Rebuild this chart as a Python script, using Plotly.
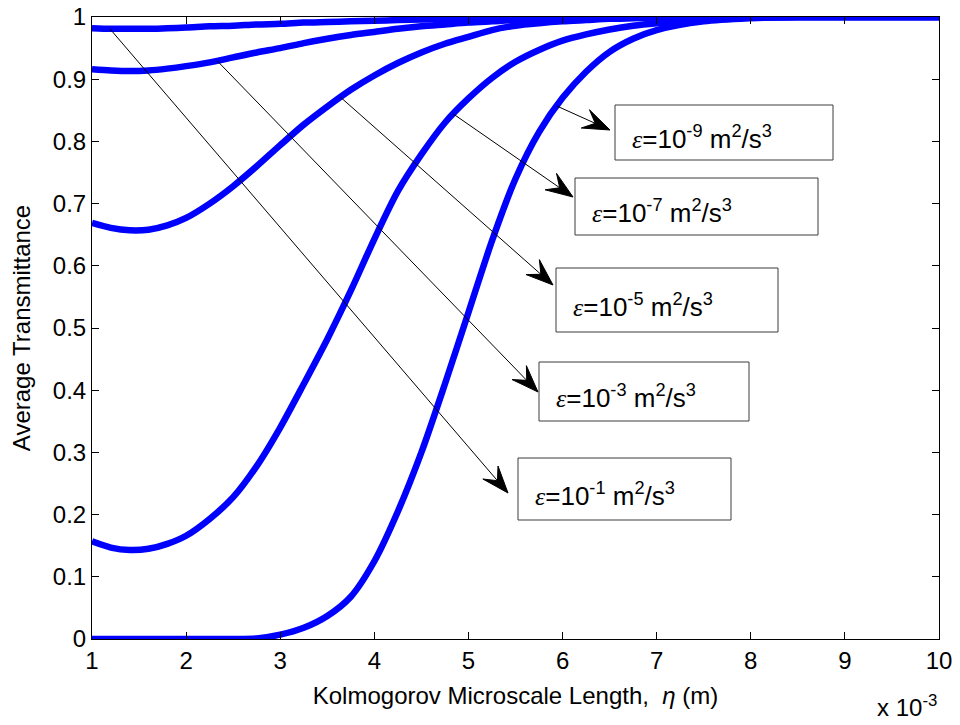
import numpy as np
import plotly.graph_objects as go

# ---------------- data (eta in units of 1e-3 m) ----------------
eta = [1.0, 1.2, 1.4, 1.6, 1.8, 2.0, 2.25, 2.5, 2.75, 3.0, 3.25, 3.5, 3.75, 4.0,
       4.25, 4.5, 4.75, 5.0, 5.25, 5.5, 5.75, 6.0, 6.25, 6.5, 6.75, 7.0, 7.5,
       8.0, 8.5, 9.0, 9.5, 10.0]

trans_eps_1e_1 = [0.982, 0.981, 0.981, 0.981, 0.982, 0.983, 0.985, 0.986, 0.988,
                  0.989, 0.991, 0.992, 0.993, 0.994, 0.995, 0.996, 0.997, 0.998,
                  0.998, 0.999, 0.999, 0.999, 1.0, 1.0, 1.0, 1.0, 1.0, 1.0, 1.0,
                  1.0, 1.0, 1.0]
trans_eps_1e_3 = [0.916, 0.914, 0.913, 0.914, 0.917, 0.921, 0.927, 0.935, 0.943,
                  0.950, 0.958, 0.965, 0.971, 0.976, 0.981, 0.985, 0.988, 0.991,
                  0.993, 0.995, 0.996, 0.997, 0.998, 0.999, 0.999, 1.0, 1.0, 1.0,
                  1.0, 1.0, 1.0, 1.0]
trans_eps_1e_5 = [0.669, 0.661, 0.657, 0.658, 0.665, 0.677, 0.700, 0.728, 0.760,
                  0.794, 0.827, 0.856, 0.883, 0.906, 0.926, 0.943, 0.957, 0.968,
                  0.979, 0.986, 0.990, 0.993, 0.995, 0.997, 0.998, 0.999, 1.0,
                  1.0, 1.0, 1.0, 1.0, 1.0]
trans_eps_1e_7 = [0.157, 0.147, 0.143, 0.145, 0.153, 0.166, 0.193, 0.228, 0.278,
                  0.340, 0.410, 0.482, 0.560, 0.643, 0.720, 0.779, 0.830, 0.869,
                  0.902, 0.928, 0.947, 0.962, 0.972, 0.980, 0.986, 0.990, 0.996,
                  0.999, 1.0, 1.0, 1.0, 1.0]
trans_eps_1e_9 = [0.0, 0.0, 0.0, 0.0, 0.0, 0.0, 0.0, 0.0, 0.001, 0.007, 0.018,
                  0.037, 0.068, 0.125, 0.205, 0.30, 0.41, 0.525, 0.64, 0.74,
                  0.815, 0.87, 0.912, 0.944, 0.965, 0.979, 0.993, 0.998, 1.0,
                  1.0, 1.0, 1.0]

series = [trans_eps_1e_1, trans_eps_1e_3, trans_eps_1e_5, trans_eps_1e_7, trans_eps_1e_9]

label_exponents = ["-9", "-7", "-5", "-3", "-1"]
# which curve each label's arrow starts on, and the eta where it starts
label_curves = [trans_eps_1e_9, trans_eps_1e_7, trans_eps_1e_5, trans_eps_1e_3, trans_eps_1e_1]
label_tail_eta = [5.94, 4.84, 3.64, 2.33, 1.19]

x_ticks = list(range(1, 11))
y_ticks = [round(0.1 * i, 1) for i in range(11)]

# ---------------- layout geometry ----------------
OFF = 8  # page body margin of the browser
W, H = 960 - OFF, 725 - OFF
ML, MR, MT, MB = 92 - OFF, 21, 17 - OFF, 86
PW, PH = W - ML - MR, H - MT - MB
X0, X1, Y0, Y1 = 1.0, 10.0, 0.0, 1.0


# screen-pixel -> data / paper helpers
def px2x(px):
    return X0 + (px - OFF - ML) / PW * (X1 - X0)


def py2y(py):
    return Y0 + (H - MB - (py - OFF)) / PH * (Y1 - Y0)


def x2px(x):
    return OFF + ML + (x - X0) / (X1 - X0) * PW


def y2py(y):
    return OFF + H - MB - (y - Y0) / (Y1 - Y0) * PH


def px2paperx(px):
    return (px - OFF - ML) / PW


def py2papery(py):
    return (H - MB - (py - OFF)) / PH


# arrow tip positions and box rectangles (screen pixels)
tips_px = [(610, 130), (573, 197), (553, 285), (538, 392), (508, 493)]
boxes_px = [(615, 105, 833, 160), (575, 178, 818, 235), (556, 268, 778, 332),
            (539, 362, 749, 421), (518, 458, 731, 520)]

FONT = "Liberation Sans, Arial, sans-serif"
BLUE = "rgb(0,0,255)"

fig = go.Figure()
for s in series:
    fig.add_trace(go.Scatter(x=eta, y=s, mode="lines",
                             line=dict(color=BLUE, width=6.5, shape="spline", smoothing=0.8),
                             showlegend=False, hoverinfo="skip"))

shapes = []
annotations = []
HL, HW = 27, 10  # arrowhead length and half width (px)
for exp_, curve, teta, tip, box in zip(label_exponents, label_curves, label_tail_eta,
                                       tips_px, boxes_px):
    ty = float(np.interp(teta, eta, curve))
    tx_p, ty_p = x2px(teta), y2py(ty)
    hx, hy = tip
    d = np.array([hx - tx_p, hy - ty_p], dtype=float)
    d /= np.linalg.norm(d)
    n = np.array([-d[1], d[0]])
    tipv = np.array([hx, hy], dtype=float)
    w1 = tipv - HL * d + HW * n
    w2 = tipv - HL * d - HW * n
    notch = tipv - 0.6 * HL * d
    shapes.append(dict(type="line", xref="x", yref="y",
                       x0=teta, y0=ty, x1=px2x(notch[0]), y1=py2y(notch[1]),
                       line=dict(color="black", width=1)))
    pts = [tipv, w1, notch, w2]
    path = "M " + " L ".join(f"{px2x(p[0]):.5f},{py2y(p[1]):.5f}" for p in pts) + " Z"
    shapes.append(dict(type="path", xref="x", yref="y", path=path,
                       fillcolor="black", line=dict(color="black", width=1)))
    bx0, by0, bx1, by1 = box
    shapes.append(dict(type="rect", xref="x", yref="y",
                       x0=px2x(bx0), x1=px2x(bx1), y0=py2y(by1), y1=py2y(by0),
                       line=dict(color="rgb(60,60,60)", width=1), fillcolor="rgba(0,0,0,0)"))
    annotations.append(dict(
        x=px2x(bx0 + 15), y=py2y((by0 + by1) / 2 + 5), xref="x", yref="y",
        xanchor="left", yanchor="middle", showarrow=False,
        text=(f"<i><span style='font-family:Liberation Serif'>ε</span></i>=10<sup>{exp_}</sup>"
              f" m<sup>2</sup>/s<sup>3</sup>"),
        font=dict(family=FONT, size=26, color="black")))

annotations.append(dict(x=px2paperx(875), y=py2papery(706), xref="paper", yref="paper",
                        xanchor="left", yanchor="middle", showarrow=False,
                        text="x 10<sup>-3</sup>",
                        font=dict(family=FONT, size=24, color="black")))

axis_common = dict(showline=True, linecolor="black", linewidth=1, mirror="ticks",
                   ticks="inside", ticklen=7, tickcolor="black", showgrid=False,
                   zeroline=False, automargin=False, ticklabeloverflow="allow",
                   tickfont=dict(family=FONT, size=24, color="black"))

fig.update_layout(
    width=W, height=H,
    margin=dict(l=ML, r=MR, t=MT, b=MB, pad=0, autoexpand=False),
    paper_bgcolor="white", plot_bgcolor="white",
    xaxis=dict(range=[X0, X1], tickvals=x_ticks, ticktext=[str(v) for v in x_ticks],
               title=dict(text="Kolmogorov Microscale Length,  <i>η</i> (m)", standoff=14,
                          font=dict(family=FONT, size=24, color="black")),
               **axis_common),
    yaxis=dict(range=[Y0, Y1], tickvals=y_ticks, ticktext=[f"{v:g}" for v in y_ticks],
               title=dict(text="Average Transmittance", standoff=16,
                          font=dict(family=FONT, size=24, color="black")),
               **axis_common),
    shapes=shapes, annotations=annotations,
)

fig.write_html("out.html")
